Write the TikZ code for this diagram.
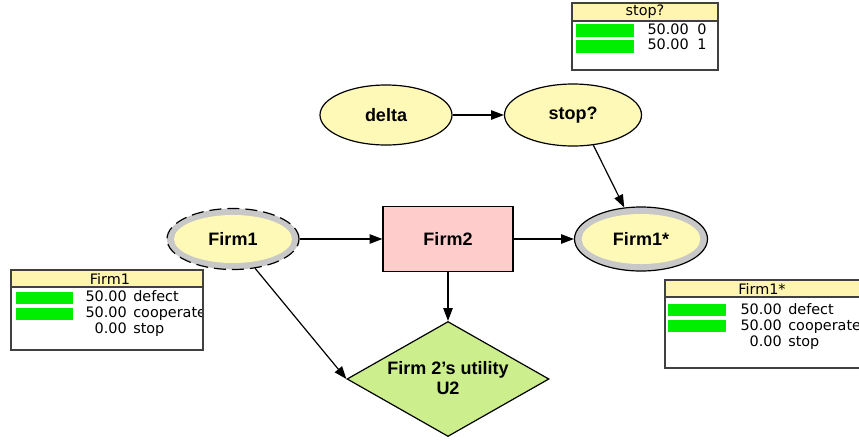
\documentclass[tikz,border=0pt]{standalone}
\usepackage{fontspec}
\setmainfont{Liberation Sans}
\newfontfamily\tabface{DejaVu Sans}
\usetikzlibrary{arrows.meta}
\usetikzlibrary{shapes.geometric}
\definecolor{nodeyellow}{HTML}{FFF9B8}
\definecolor{ringgray}{HTML}{C8C8C8}
\definecolor{headyellow}{HTML}{FFF4B0}
\definecolor{bargreen}{HTML}{00EE00}
\definecolor{firmpink}{HTML}{FFCCCC}
\definecolor{utilgreen}{HTML}{CDEE8C}
\newcommand\nodefont[0]{\fontsize{13.5}{15.5}\selectfont\bfseries}
\newcommand\tabfont[0]{\tabface\fontsize{10.8}{13}\selectfont}

\begin{document}
\begin{tikzpicture}[x=0.75pt,y=-0.75pt,
  arr/.style={black,line width=0.9pt,-{Triangle[length=9.5pt,width=7pt]}},
  chance/.style={ellipse,draw=black,line width=0.9pt,fill=nodeyellow,inner sep=0pt,font=\nodefont},
  ring/.style={ellipse,draw=black,line width=0.9pt,fill=ringgray,inner sep=0pt},
  core/.style={ellipse,fill=nodeyellow,inner sep=0pt,font=\nodefont},
  tabline/.style={draw=black!75,line width=0.9pt},
  tabnum/.style={anchor=mid east,inner sep=0pt,font=\tabfont},
  tablab/.style={anchor=mid west,inner sep=0pt,font=\tabfont}
]

\useasboundingbox (0,0) rectangle (859,440);

% top row
\node[chance,minimum width=99pt,minimum height=45pt] (delta) at (386,115) {delta};
\node[chance,minimum width=102.75pt,minimum height=46.5pt] (stop) at (573,115) {stop?};

% decision nodes
\node[ring,dashed,dash pattern=on 9pt off 4.5pt,minimum width=99pt,minimum height=45.75pt] (firm1) at (233,239) {};
\node[core,minimum width=88.5pt,minimum height=36pt] (firm1in) at (firm1) {Firm1};
\node[rectangle,draw=black,line width=0.9pt,fill=firmpink,minimum width=97.5pt,minimum height=48.75pt,font=\nodefont] (firm2) at (448,239) {Firm2};
\node[ring,minimum width=99.75pt,minimum height=48pt] (firm1s) at (641,239) {};
\node[core,minimum width=89pt,minimum height=37.5pt] (firm1sin) at (firm1s) {Firm1*};

% utility
\node[diamond,draw=black,line width=0.9pt,fill=utilgreen,inner sep=0pt,minimum width=151.5pt,minimum height=86.25pt] (u2) at (448,379) {};
\node[align=center,font=\nodefont,inner sep=0pt] (u2label) at (448,378) {Firm 2's utility\\U2};

\draw[arr] (delta) -- (stop);
\draw[arr] (stop.-56) -- (firm1s.118);
\draw[arr] (firm1) -- (firm2);
\draw[arr] (firm2) -- (firm1s);
\draw[arr] (firm2) -- (u2);
\draw[arr] (firm1.-53) -- (u2.west);

% monitor: stop?
\fill[white] (572,3) rectangle (718,70);
\fill[headyellow] (572,3) rectangle (718,21);
\node[font=\tabfont] (stoptab) at (645,12) {stop?};
\fill[bargreen] (576,24) rectangle (634,37);
\fill[bargreen] (576,40) rectangle (634,53);
\foreach \val/\lab [count=\i] in {50.00/0,50.00/1} {
  \node[tabnum] at (689,{16+15*\i}) {\val};
  \node[tablab] at (697,{16+15*\i}) {\lab};
}
\draw[tabline] (572,21)--(718,21);
\draw[tabline] (572,3) rectangle (718,70);

% monitor: Firm1
\fill[white] (11,270) rectangle (203,350);
\fill[headyellow] (11,270) rectangle (203,287);
\node[font=\tabfont] (firm1tab) at (110,279) {Firm1};
\fill[bargreen] (16,292) rectangle (73,304);
\fill[bargreen] (16,308) rectangle (73,320);
\begin{scope}
\clip (11,270) rectangle (201,350);
\foreach \val/\lab [count=\i] in {50.00/defect,50.00/cooperate,0.00/stop} {
  \node[tabnum] at (127,{282+16*\i}) {\val};
  \node[tablab] at (133,{282+16*\i}) {\lab};
}
\end{scope}
\draw[tabline] (11,287)--(203,287);
\draw[tabline] (11,270) rectangle (203,350);

% monitor: Firm1*
\fill[white] (665,280) rectangle (859,368);
\fill[headyellow] (665,280) rectangle (859,297);
\node[font=\tabfont] (firm1stab) at (762,289) {Firm1*};
\fill[bargreen] (668,304) rectangle (726,316);
\fill[bargreen] (668,320) rectangle (726,332);
\begin{scope}
\clip (665,280) rectangle (859,368);
\foreach \val/\lab [count=\i] in {50.00/defect,50.00/cooperate,0.00/stop} {
  \node[tabnum] at (782,{295+16*\i}) {\val};
  \node[tablab] at (788,{295+16*\i}) {\lab};
}
\end{scope}
\draw[tabline] (665,297)--(859,297);
\draw[tabline] (859,280)--(665,280)--(665,368)--(859,368);

\end{tikzpicture}
\end{document}
